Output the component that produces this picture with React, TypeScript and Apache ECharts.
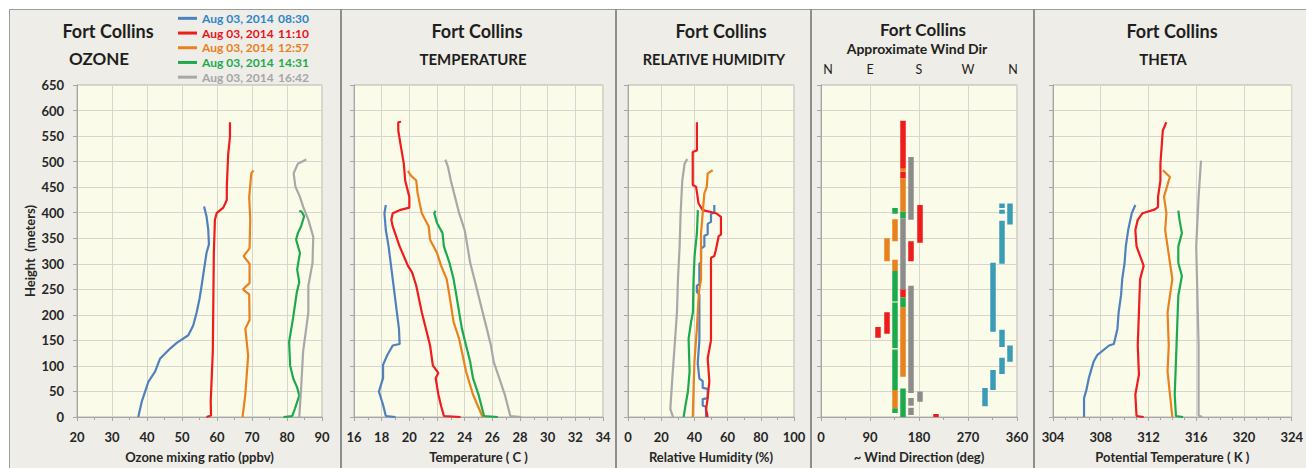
import React, { useEffect, useRef } from "react";
import * as echarts from "echarts";

// ---------- DATA ----------
const DATE = "Aug 03, 2014";
const TIMES = ["08:30", "11:10", "12:57", "14:31", "16:42"];
const HEIGHT_MAX = 650;
const HEIGHT_STEP = 50;

// Ozone (ppbv) : [value, height m]
const ozone0830 = [[37.5,0],[38.5,30],[40.4,69],[42.3,89],[43.7,114],[46.6,134],[48.5,145],[51.8,160],[53.2,179],[54.2,205],[55,231],[55.6,257],[56.3,289],[57,321],[57.7,338],[57.5,367],[57,393],[56.3,412]];
const ozone1110 = [[57,0],[58.3,3],[58.2,30],[58.8,128],[59,257],[59.1,321],[59.4,386],[59.9,399],[61.8,410],[62.8,425],[62.8,451],[63.2,515],[63.7,548],[63.7,577]];
const ozone1257 = [[67.3,0],[68.1,45],[68.9,120],[68.1,173],[69.3,190],[69.2,240],[67.4,250],[69.3,262],[69.3,300],[67.6,315],[69.3,330],[69.5,386],[69.2,430],[69.8,477],[70.4,483]];
const ozone1431 = [[79,0],[81.5,2],[82.3,17],[83.5,42],[82.9,58],[81.8,75],[80.9,101],[80.6,147],[81.7,192],[82.8,244],[83.5,264],[82.9,289],[83.7,321],[82.6,347],[83.1,360],[84,373],[84.9,393],[84.2,402],[83.5,404]];
const ozone1642 = [[83.5,0],[84,52],[84.6,128],[86.1,205],[86.1,257],[87.3,302],[87.5,353],[86.1,386],[84.6,412],[83.7,431],[82.4,451],[81.9,477],[83.1,496],[85.5,504]];

// Temperature (C)
const temp0830 = [[19.0,0],[18.3,2],[18.1,24],[17.8,50],[18.1,76],[18.1,102],[18.4,121],[18.8,140],[19.3,143],[19.25,173],[19.1,205],[18.8,270],[18.5,334],[18.3,366],[18.2,399],[18.3,415]];
const temp1110 = [[23.7,0],[22.5,2],[22.3,21],[22.1,44],[21.9,76],[22.1,86],[21.7,101],[21.5,140],[20.9,205],[20.5,257],[20.2,283],[19.9,296],[19.3,334],[18.8,373],[18.7,386],[18.8,399],[19.3,405],[20.0,410],[20.0,431],[19.7,463],[19.6,496],[19.4,528],[19.2,561],[19.2,577],[19.4,578]];
const temp1257 = [[25.3,0],[24.6,44],[24.1,89],[23.9,115],[23.6,153],[23.2,186],[22.9,238],[22.7,270],[22.3,296],[22.0,321],[21.5,347],[21.4,373],[20.9,399],[20.6,438],[20.5,463],[20.1,473],[19.9,482]];
const temp1431 = [[26.4,0],[25.4,2],[25.0,44],[24.6,76],[24.4,108],[24.1,140],[23.8,173],[23.6,205],[23.4,238],[23.2,270],[22.9,302],[22.5,334],[22.4,360],[22.0,380],[21.8,399],[21.9,404]];
const temp1642 = [[28.1,0],[27.3,2],[26.9,44],[26.5,76],[26.1,108],[25.9,140],[25.6,173],[25.3,205],[25.0,238],[24.7,270],[24.4,302],[24.2,334],[24.0,366],[23.6,399],[23.3,431],[23.0,463],[22.8,489],[22.6,504]];

// Relative humidity (%)
const rh0830 = [[47,0],[47,20],[45,22],[45,35],[48,37],[48,55],[45,57],[45,70],[43,75],[42,105],[43,150],[43,240],[41.5,245],[41.5,257],[43,260],[43,300],[44,303],[44,330],[46,334],[46,355],[48,358],[48,378],[50,382],[50,398],[52,400],[52,415]];
const rh1110 = [[48,0],[47,15],[48,37],[49,70],[48,115],[50,150],[50,312],[52,315],[53,328],[54.6,354],[56,357],[56,392],[53,399],[45,405],[42.5,418],[41,451],[39,454],[39,519],[41.5,522],[41.5,577]];
const rh1257 = [[39,0],[40,108],[41.5,173],[42.7,244],[44,270],[44,360],[45,399],[46,438],[47.5,451],[48,477],[51,483]];
const rh1431 = [[33.5,0],[34.7,24],[36.1,50],[37.1,89],[36.5,153],[38,186],[39.1,205],[39.5,270],[40.1,315],[41.5,360],[42.1,405]];
const rh1642 = [[27.1,0],[25.5,16],[26.7,76],[28.1,140],[29.5,205],[30.1,270],[31.1,334],[31.7,399],[32.7,463],[34.1,496],[35.7,505]];

// Wind direction segments: [deg, bottom height, top height]
const wind0830 = [[332,409,418],[332,398,406],[346,377,418],[332,300,384],[315,167,302],[332,137,171],[346,108,140],[332,84,116],[315,53,92],[301,21,57]];
const wind1110 = [[150,486,580],[150,467,480],[181,341,415],[165,305,344],[150,234,250],[121,163,205],[105,155,176],[211,0,6]];
const wind1257 = [[150,480,486],[150,402,467],[136,344,387],[121,305,350],[136,286,308],[150,79,215],[136,17,53]];
const wind1431 = [[136,398,409],[150,389,402],[136,226,286],[136,135,224],[136,53,132],[136,8,17],[150,215,234],[150,0,56]];
const wind1642 = [[165,386,509],[150,250,389],[165,47,257],[165,22,37],[165,4,18],[181,30,50]];

// Potential temperature (K)
const theta0830 = [[306.6,0],[306.6,37],[306.8,53],[307.0,76],[307.4,108],[307.7,121],[308.7,140],[309.1,143],[309.4,173],[309.5,205],[309.7,238],[309.8,270],[310.0,302],[310.1,334],[310.3,366],[310.6,399],[310.9,415]];
const theta1110 = [[311.6,0],[311.0,2],[310.9,44],[311.2,83],[311.1,140],[311.2,205],[311.3,270],[311.6,296],[311.0,334],[310.9,366],[311.1,386],[311.5,399],[312.5,406],[312.8,411],[312.8,431],[313.0,463],[313.0,496],[313.1,528],[313.2,561],[313.5,577]];
const theta1257 = [[314.0,0],[313.8,44],[313.6,89],[313.7,140],[313.6,205],[313.8,238],[314.0,270],[313.8,302],[313.6,334],[313.4,366],[313.5,399],[313.3,431],[313.7,463],[313.8,470],[313.2,483]];
const theta1431 = [[314.9,0],[314.3,2],[314.2,44],[314.3,108],[314.4,173],[314.5,238],[314.8,276],[314.5,302],[314.5,334],[314.8,360],[314.6,386],[314.5,404]];
const theta1642 = [[316.5,0],[316.2,3],[316.2,44],[316.2,140],[316.1,238],[316.0,334],[316.2,431],[316.4,502]];

const WIND_LABELS = ["N", "E", "S", "W", "N"];
const WIND_LABEL_DEG = [0, 90, 180, 270, 360];

// ---------- STYLE ----------
const LINE_COLORS = ["#4F81BD", "#EE1C1C", "#E8821E", "#1DAA4E", "#A8A8A8"];
const TEXT_COLORS = ["#2F86C9", "#E8141B", "#E8821E", "#1DAA4E", "#A6A6A6"];
const WIND_COLORS = ["#3B9CB6", "#EE1C1C", "#E8821E", "#1DAA4E", "#8C8C8C"];
const FONT = "Lato";

const PANELS = [
  { left: 77, width: 245, min: 20, max: 90, interval: 10, minor: 2, name: "Ozone mixing ratio (ppbv)" },
  { left: 354, width: 249, min: 16, max: 34, interval: 2, minor: 2, name: "Temperature ( C )" },
  { left: 628, width: 166, min: 0, max: 100, interval: 20, minor: 2, name: "Relative Humidity (%)" },
  { left: 821, width: 196, min: 0, max: 360, interval: 90, minor: 2, name: "~ Wind Direction (deg)" },
  { left: 1053, width: 243, min: 304, max: 324, interval: 4, minor: 4, name: "Potential Temperature ( K )" },
];
const GRID_TOP = 85;
const GRID_H = 334;

export default function App() {
  const ref = useRef<HTMLDivElement>(null);

  useEffect(() => {
    const chart = echarts.init(ref.current!, null, { renderer: "svg" });

    const axisColor = "#A6A6A6";
    const textColor = "#262626";

    const grids = PANELS.map((p) => ({
      left: p.left,
      top: GRID_TOP,
      width: p.width,
      height: GRID_H,
      show: true,
      backgroundColor: "#FBFBEA",
      borderColor: "#B4B4AC",
      borderWidth: 1,
    }));

    const xAxes = PANELS.map((p, i) => ({
      type: "value",
      gridIndex: i,
      min: p.min,
      max: p.max,
      interval: p.interval,
      name: p.name,
      nameLocation: "middle",
      nameGap: 33,
      nameTextStyle: { fontFamily: FONT, fontWeight: "bold", fontSize: 13, color: textColor },
      axisLine: { show: true, onZero: false, lineStyle: { color: axisColor } },
      axisTick: { show: true, length: 4, lineStyle: { color: axisColor } },
      minorTick: { show: true, splitNumber: p.minor, length: 3, lineStyle: { color: axisColor } },
      axisLabel: { margin: 13, fontFamily: FONT, fontWeight: "bold", fontSize: 13, color: textColor },
      splitLine: { show: true, lineStyle: { color: "#D6D6CE", width: 1 } },
    }));

    const yAxes = PANELS.map((p, i) => ({
      type: "value",
      gridIndex: i,
      min: 0,
      max: HEIGHT_MAX,
      interval: HEIGHT_STEP,
      name: i === 0 ? "Height  (meters)" : "",
      nameLocation: "middle",
      nameGap: 41,
      nameRotate: 90,
      nameTextStyle: { fontFamily: FONT, fontWeight: "bold", fontSize: 13, color: textColor },
      axisLine: { show: true, lineStyle: { color: axisColor } },
      axisTick: { show: true, length: 4, lineStyle: { color: axisColor } },
      axisLabel: { show: i === 0, margin: 13, fontFamily: FONT, fontWeight: "bold", fontSize: 13, color: textColor },
      splitLine: { show: true, lineStyle: { color: "#D6D6CE", width: 1 } },
    }));

    const profile = [
      [ozone0830, ozone1110, ozone1257, ozone1431, ozone1642],
      [temp0830, temp1110, temp1257, temp1431, temp1642],
      [rh0830, rh1110, rh1257, rh1431, rh1642],
      null,
      [theta0830, theta1110, theta1257, theta1431, theta1642],
    ];
    const wind = [wind0830, wind1110, wind1257, wind1431, wind1642];

    const series: any[] = [];
    profile.forEach((set, gi) => {
      if (!set) return;
      set.forEach((d, si) => {
        series.push({
          type: "line",
          name: TIMES[si],
          xAxisIndex: gi,
          yAxisIndex: gi,
          data: d,
          showSymbol: false,
          symbol: "none",
          lineStyle: { color: LINE_COLORS[si], width: 2.2 },
          itemStyle: { color: LINE_COLORS[si] },
        });
      });
    });
    wind.forEach((segs, si) => {
      series.push({
        type: "lines",
        name: TIMES[si],
        coordinateSystem: "cartesian2d",
        xAxisIndex: 3,
        yAxisIndex: 3,
        data: segs.map((s) => ({ coords: [[s[0], s[1]], [s[0], s[2]]] })),
        lineStyle: { color: WIND_COLORS[si], width: 5.5, opacity: 1, cap: "butt" },
      });
    });

    const titleStyle = (text: string, x: number, y: number, size: number, weight = "bold") => ({
      type: "text",
      x,
      y,
      z: 10,
      style: {
        text,
        font: `${weight} ${size}px ${FONT}`,
        fill: "#1E1E1E",
        align: "center",
        verticalAlign: "middle",
      },
    });

    const graphic: any[] = [
      {
        type: "rect",
        z: -10,
        shape: { x: 9.5, y: 9.5, width: 1310, height: 470 },
        style: { fill: "#EEEDE7", stroke: "#9C9C9C", lineWidth: 1 },
      },
      ...[341, 616, 811, 1034].map((x) => ({
        type: "line",
        z: -9,
        shape: { x1: x, y1: 9, x2: x, y2: 468 },
        style: { stroke: "#8E8E8E", lineWidth: 2 },
      })),
      titleStyle("Fort Collins", 108, 31, 18),
      titleStyle("OZONE", 99, 58, 17),
      titleStyle("Fort Collins", 477, 31, 18),
      titleStyle("TEMPERATURE", 473, 59, 15),
      titleStyle("Fort Collins", 721, 31, 18),
      titleStyle("RELATIVE HUMIDITY", 714, 59, 14.5),
      titleStyle("Fort Collins", 923, 29, 17),
      titleStyle("Approximate Wind Dir", 917, 48, 14),
      titleStyle("Fort Collins", 1172, 31, 18),
      titleStyle("THETA", 1163, 59, 15),
      ...WIND_LABELS.map((t, i) =>
        titleStyle(t, 821 + (WIND_LABEL_DEG[i] / 360) * 196 + (i === 0 ? 7 : i === 4 ? -4 : 0), 69, 12.5, "normal")
      ),
    ];

    chart.setOption({
      animation: false,
      backgroundColor: "#FFFFFF",
      grid: grids,
      xAxis: xAxes,
      yAxis: yAxes,
      series,
      graphic,
      legend: {
        orient: "vertical",
        left: 173,
        top: 6,
        itemGap: 0,
        itemWidth: 19,
        itemHeight: 3,
        icon: "rect",
        selectedMode: false,
        data: TIMES.map((t, i) => ({
          name: t,
          icon: "rect",
          itemStyle: { color: LINE_COLORS[i] },
          textStyle: { color: TEXT_COLORS[i] },
        })),
        formatter: (n: string) => `{d|${DATE}}{t|${n}}`,
        textStyle: {
          fontFamily: FONT,
          fontWeight: "bold",
          fontSize: 12,
          lineHeight: 14.7,
          rich: {
            d: { width: 76, fontFamily: FONT, fontWeight: "bold", fontSize: 12, lineHeight: 14.7 },
            t: { fontFamily: FONT, fontWeight: "bold", fontSize: 12, lineHeight: 14.7 },
          },
        },
      },
    });

    return () => chart.dispose();
  }, []);

  return (
    <div
      ref={ref}
      style={{ position: "fixed", left: 0, top: 0, width: 1306, height: 468, background: "#FFFFFF" }}
    />
  );
}
